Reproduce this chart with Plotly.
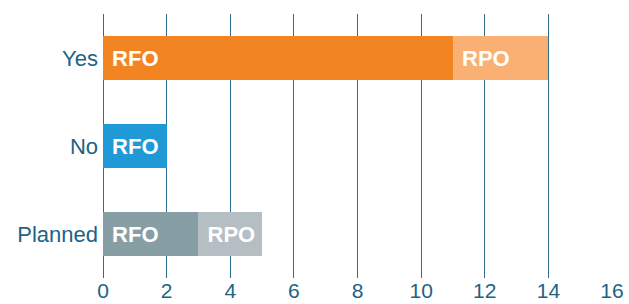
import plotly.graph_objects as go

categories = ["Yes", "No", "Planned"]
rfo_values = [11, 2, 3]
rpo_values = [3, 0, 2]
rfo_colors = ["#F28522", "#1F9AD6", "#879EA5"]
rpo_colors = ["#F9B072", "#A9CFE8", "#B4BEC3"]
x_ticks = [0, 2, 4, 6, 8, 10, 12, 14, 16]

rfo_text = [" RFO" if v > 0 else "" for v in rfo_values]
rpo_text = [" RPO" if v > 0 else "" for v in rpo_values]

bar_font = dict(family="Liberation Sans", size=22, color="white", weight="bold")

fig = go.Figure()
fig.add_trace(go.Bar(
    y=categories, x=rfo_values, orientation="h", name="RFO",
    marker=dict(color=rfo_colors, line=dict(width=0)),
    text=rfo_text, textposition="inside", insidetextanchor="start",
    textfont=bar_font, insidetextfont=bar_font,
    cliponaxis=False, textangle=0,
))
fig.add_trace(go.Bar(
    y=categories, x=rpo_values, orientation="h", name="RPO",
    marker=dict(color=rpo_colors, line=dict(width=0)),
    text=rpo_text, textposition="inside", insidetextanchor="start",
    textfont=bar_font, insidetextfont=bar_font,
    cliponaxis=False, textangle=0,
))

fig.update_layout(
    barmode="stack",
    bargap=0.51,
    width=629, height=304,
    margin=dict(l=103, r=17, t=14, b=26, autoexpand=False),
    plot_bgcolor="white", paper_bgcolor="white",
    showlegend=False,
    uniformtext=dict(minsize=22, mode="show"),
    font=dict(family="Liberation Sans", color="#1D6386"),
    xaxis=dict(
        range=[0, 16], tickvals=x_ticks, ticktext=[str(t) for t in x_ticks],
        showgrid=True, gridcolor="#2E6E8C", gridwidth=1,
        zeroline=True, zerolinecolor="#2E6E8C", zerolinewidth=1,
        showline=False, ticks="", automargin=False,
        tickfont=dict(size=21, color="#1D6386"),
        ticklabelstandoff=-2,
    ),
    yaxis=dict(
        categoryorder="array", categoryarray=categories[::-1],
        range=[-0.5, 2.5], automargin=False,
        showgrid=False, zeroline=False, showline=False, ticks="",
        tickfont=dict(size=22, color="#1D6386"),
        ticklabelstandoff=4,
    ),
)

fig.write_html(
    "out.html",
    config={"displayModeBar": False},
    post_script="document.body.style.margin='0';document.body.style.padding='0';",
)
